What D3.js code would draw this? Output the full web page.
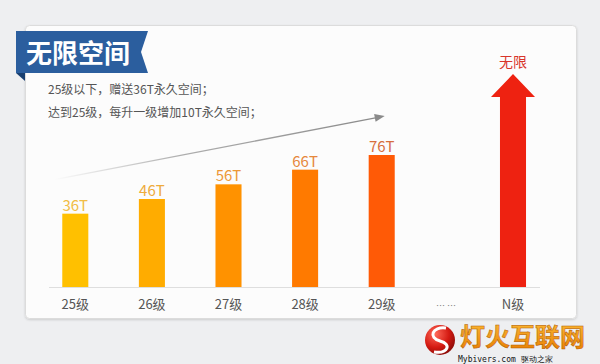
<!DOCTYPE html>
<html>
<head>
    <meta charset="utf-8">
    <style>
        body { margin: 0; background: #eeeff1; }
        svg { display: block; font-family: "Noto Sans CJK SC", "Noto Sans", sans-serif; }
        .cat text { font-size: 13px; fill: #555; text-anchor: middle; }
        .val { font-size: 15px; text-anchor: middle; }
        .note { font-size: 12px; fill: #555; }
    </style>
    <script src="https://d3js.org/d3.v7.min.js"></script>
</head>
<body>
    <svg width="600" height="364"></svg>
    <script>
    // data
    var levels = ["25级", "26级", "27级", "28级", "29级"];
    var space = [36, 46, 56, 66, 76];
    var spaceLabels = ["36T", "46T", "56T", "66T", "76T"];
    var barColors = ["#ffc000", "#ffac00", "#ff9200", "#ff7a00", "#ff5a06"];
    var labelColors = ["#f1bd45", "#eeab3b", "#ec9838", "#e6883c", "#d76e3e"];
    var tailCats = ["… …", "N级"];
    var tailLabel = "无限";
    var title = "无限空间";
    var notes = ["25级以下，赠送36T永久空间；", "达到25级，每升一级增加10T永久空间；"];

    var svg = d3.select("svg");
    var baseY = 287;

    var defs = svg.append("defs");
    var f = defs.append("filter").attr("id", "sh").attr("x", "-5%").attr("y", "-5%")
        .attr("width", "110%").attr("height", "110%");
    f.append("feDropShadow").attr("dx", 0).attr("dy", 1).attr("stdDeviation", 1.2)
        .attr("flood-color", "#000").attr("flood-opacity", 0.15);

    var lg = defs.append("linearGradient").attr("id", "trend")
        .attr("x1", 0).attr("x2", 1).attr("y1", 0).attr("y2", 0);
    lg.append("stop").attr("offset", "0%").attr("stop-color", "#999").attr("stop-opacity", 0);
    lg.append("stop").attr("offset", "40%").attr("stop-color", "#999").attr("stop-opacity", 0.8);
    lg.append("stop").attr("offset", "100%").attr("stop-color", "#8a8a8a");

    var ball = defs.append("radialGradient").attr("id", "ball")
        .attr("cx", "35%").attr("cy", "30%").attr("r", "75%");
    ball.append("stop").attr("offset", "0%").attr("stop-color", "#ff6a5a");
    ball.append("stop").attr("offset", "60%").attr("stop-color", "#d41a12");
    ball.append("stop").attr("offset", "100%").attr("stop-color", "#8a0c08");

    var wm = defs.append("linearGradient").attr("id", "wm")
        .attr("x1", 0).attr("x2", 0).attr("y1", 0).attr("y2", 1);
    wm.append("stop").attr("offset", "0%").attr("stop-color", "#ffc23a");
    wm.append("stop").attr("offset", "100%").attr("stop-color", "#e67a00");

    // card
    svg.append("rect")
        .attr("x", 25.5).attr("y", 25.5).attr("width", 551).attr("height", 293)
        .attr("rx", 4)
        .attr("fill", "#fcfcfc").attr("stroke", "#dcdcdc")
        .attr("filter", "url(#sh)");

    // title ribbon
    svg.append("path")
        .attr("d", "M16,73 L25,73 L25,81 Z")
        .attr("fill", "#183f70");
    svg.append("path")
        .attr("d", "M16,31 L148,31 L141,52 L148,73 L16,73 Z")
        .attr("fill", "#2b5e9e");
    svg.append("text")
        .attr("x", 26).attr("y", 63)
        .attr("fill", "#fff")
        .style("font-size", "26px").style("font-weight", "bold")
        .text(title);

    svg.selectAll(".note").data(notes).enter().append("text")
        .attr("class", "note")
        .attr("x", 48)
        .attr("y", function(d, i) { return 94 + i * 23; })
        .text(function(d) { return d; });

    // scales
    var x = d3.scaleBand().domain(levels).range([37, 420]).paddingInner(0.66).paddingOuter(0.33);
    var xTail = d3.scalePoint().domain(tailCats).range([446, 513]);
    var y = d3.scaleLinear().domain([-14, 76]).range([baseY, 155]);

    // axis line
    svg.append("line")
        .attr("x1", 49).attr("x2", 540).attr("y1", baseY + 0.5).attr("y2", baseY + 0.5)
        .attr("stroke", "#dedede");

    // trend arrow
    var tx0 = x(levels[0]) - 8, tx1 = x(levels[4]) + 16;
    var ty0 = y(space[0]) - 34, ty1 = y(space[4]) - 39;
    svg.append("line")
        .attr("x1", tx0).attr("y1", ty0).attr("x2", tx1 - 8).attr("y2", ty1 + 1.6)
        .attr("stroke", "url(#trend)").attr("stroke-width", 1.3);
    var ang = Math.atan2(ty1 - ty0, tx1 - tx0) * 180 / Math.PI;
    svg.append("path")
        .attr("d", "M0,0 L-10,-4 L-10,4 Z")
        .attr("fill", "#8a8a8a")
        .attr("transform", "translate(" + tx1 + "," + ty1 + ") rotate(" + ang + ")");

    // bars
    var bw = x.bandwidth();
    svg.selectAll(".bar").data(space).enter().append("rect")
        .attr("class", "bar")
        .attr("x", function(d, i) { return x(levels[i]); })
        .attr("y", function(d) { return y(d); })
        .attr("width", bw)
        .attr("height", function(d) { return baseY - y(d); })
        .attr("fill", function(d, i) { return barColors[i]; });

    svg.selectAll(".val").data(space).enter().append("text")
        .attr("class", "val")
        .attr("x", function(d, i) { return x(levels[i]) + bw / 2; })
        .attr("y", function(d) { return y(d) - 3; })
        .attr("fill", function(d, i) { return labelColors[i]; })
        .text(function(d, i) { return spaceLabels[i]; });

    // category labels
    var cat = svg.append("g").attr("class", "cat");
    cat.selectAll(".lv").data(levels).enter().append("text")
        .attr("x", function(d) { return x(d) + bw / 2; })
        .attr("y", 309)
        .text(function(d) { return d; });
    cat.selectAll(".tl").data(tailCats).enter().append("text")
        .attr("x", function(d) { return xTail(d); })
        .attr("y", 309)
        .style("font-size", function(d, i) { return i === 0 ? "9px" : null; })
        .style("fill", function(d, i) { return i === 0 ? "#777" : null; })
        .text(function(d) { return d; });

    // unlimited arrow
    var ax = xTail("N级");
    var headY = 97, tipY = 74;
    svg.append("path")
        .attr("d", "M" + (ax - bw / 2) + "," + baseY +
                   " L" + (ax - bw / 2) + "," + headY +
                   " L" + (ax - 22) + "," + headY +
                   " L" + ax + "," + tipY +
                   " L" + (ax + 22) + "," + headY +
                   " L" + (ax + bw / 2) + "," + headY +
                   " L" + (ax + bw / 2) + "," + baseY + " Z")
        .attr("fill", "#ee2211");
    svg.append("text")
        .attr("x", ax).attr("y", 67)
        .attr("text-anchor", "middle")
        .attr("fill", "#d8352b")
        .style("font-size", "14px")
        .text(tailLabel);

    // watermark
    svg.append("circle").attr("cx", 440).attr("cy", 340).attr("r", 15).attr("fill", "url(#ball)");
    svg.append("path")
        .attr("d", "M446,328 C432,326 428,338 440,341 C452,344 448,354 434,352")
        .attr("fill", "none").attr("stroke", "#fff").attr("stroke-width", 3);
    svg.append("text")
        .attr("x", 460).attr("y", 346)
        .attr("fill", "url(#wm)")
        .attr("stroke", "#b35a00").attr("stroke-width", 0.5)
        .style("font-size", "25px").style("font-weight", "bold")
        .text("灯火互联网");
    svg.append("text")
        .attr("x", 458).attr("y", 362)
        .attr("fill", "#111")
        .style("font-size", "8px")
        .style("font-family", "DejaVu Sans Mono, monospace")
        .text("Mybivers.com 驱动之家");
    </script>
</body>
</html>
